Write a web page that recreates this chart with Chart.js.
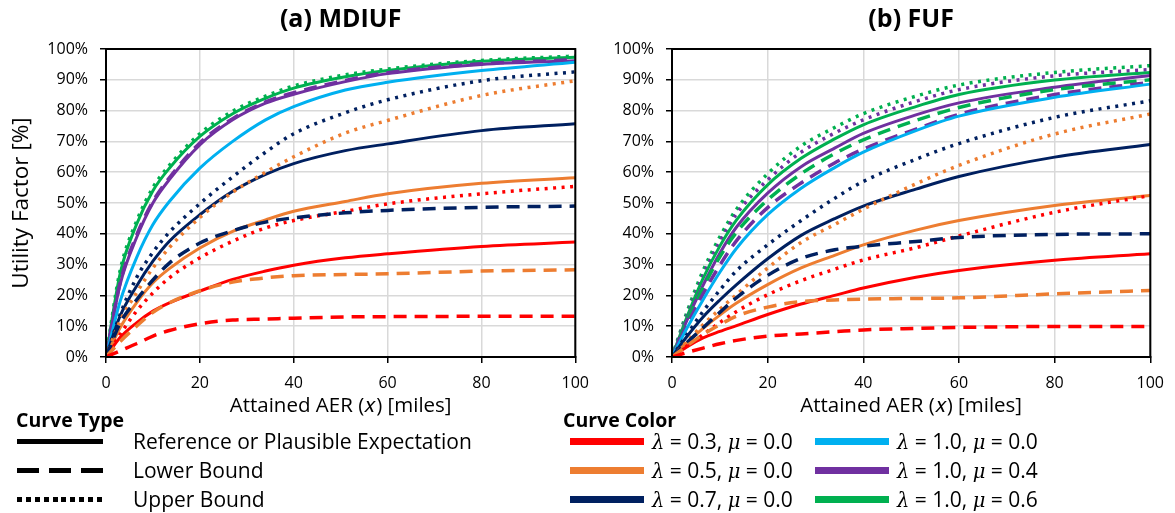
<!DOCTYPE html>
<html>
<head>
<script src="https://cdn.jsdelivr.net/npm/chart.js"></script>
<style>
  body { margin: 0; background: #fff; font-family: "Open Sans", sans-serif; color: #000; }
  #wrap { position: relative; width: 1175px; height: 513px; overflow: hidden; }
  canvas { position: absolute; top: 0; }
  .lg { position: absolute; white-space: nowrap; height: 28px; line-height: 28px; font-size: 21px; }
  .hd { font-weight: bold; font-size: 19.5px; }
  .sw { position: absolute; }
  .m { font-family: "DejaVu Serif", serif; font-style: italic; font-size: 19.5px; }
</style>
</head>
<body>
<div id="wrap">
  <canvas id="chartA" width="600" height="420" style="left:0"></canvas>
  <canvas id="chartB" width="575" height="420" style="left:600px"></canvas>
  <div id="legend"></div>
</div>

<script>
const miles = [0, 3, 6.5, 10, 13.5, 20, 27, 34, 40, 51, 60, 80, 100];

// (a) MDIUF, utility factor in %
const aRedRef    = [0, 6.3, 11.1, 14.9, 17.6, 21.4, 25.2, 27.9, 29.8, 32.2, 33.5, 35.9, 37.3];
const aRedLow    = [0, 2, 4.3, 6.8, 8.6, 10.8, 12, 12.3, 12.6, 13, 13.1, 13.2, 13.2];
const aRedUp     = [0, 7.3, 14.9, 20.8, 25.7, 32.2, 37.6, 41.9, 44.3, 47.3, 49.7, 53, 55.4];
const aOrangeRef = [0, 9.5, 17.6, 24.1, 28.7, 35.4, 40.8, 44.5, 47.3, 50.5, 53, 56.4, 58.2];
const aOrangeLow = [0, 5, 10, 14.5, 17.6, 21.5, 24.3, 25.7, 26.4, 26.8, 27, 27.9, 28.3];
const aOrangeUp  = [0, 11.7, 20.8, 28.9, 35.5, 45.3, 53.5, 60, 65, 72.7, 76.8, 84.9, 89.7];
const aNavyRef   = [0, 13.3, 23, 31.1, 37.6, 46.2, 53.8, 59.3, 62.8, 67, 69.2, 73.5, 75.7];
const aNavyLow   = [0, 11, 18.5, 25, 30.5, 37, 41, 43.8, 45.2, 46.8, 47.6, 48.6, 49];
const aNavyUp    = [0, 13.8, 25.7, 34, 40.5, 49.8, 58.5, 66.5, 72.5, 79.3, 83.5, 89.7, 92.6];
const aBlueRef   = [0, 18, 32.2, 43, 50.5, 61.3, 70, 77, 81.3, 86.7, 89.2, 93, 95.7];
const aPurpleRef = [0, 23.5, 38.7, 50, 57.6, 68.9, 77, 82.4, 85.3, 89.4, 92, 95, 96.2];
const aPurpleLow = [0, 24, 39.5, 50.5, 58.2, 69.5, 77.4, 82.8, 85.8, 89.8, 92.3, 95.2, 96.5];
const aGreenRef  = [0, 27, 43, 54, 61.3, 71.6, 79, 84, 87.3, 91, 93, 96, 97.3];
const aGreenUp   = [0, 28, 44, 55, 62.2, 72.5, 79.8, 84.7, 88, 91.6, 93.5, 96.3, 97.7];

// (b) FUF, utility factor in %
const bRedRef    = [0, 3.2, 6.2, 8.3, 10.2, 13.8, 17.2, 20, 22.4, 25.9, 28.1, 31.4, 33.5];
const bRedLow    = [0, 1.4, 2.9, 4.3, 5.4, 6.8, 7.5, 8.2, 8.8, 9.3, 9.6, 9.9, 9.9];
const bRedUp     = [0, 3.4, 7.3, 11.2, 14.8, 20.2, 24.8, 28.5, 31.5, 35.5, 39.3, 47, 52.4];
const bOrangeRef = [0, 4.5, 9.3, 13.6, 17.5, 23.5, 28.9, 33, 36.4, 41.2, 44.3, 49.2, 52.4];
const bOrangeLow = [0, 3.5, 7.3, 10.5, 13.3, 16.2, 18, 18.5, 18.8, 19, 19.2, 20.5, 21.6];
const bOrangeUp  = [0, 4.8, 10.5, 15.5, 20.3, 28.9, 37.2, 43, 48, 56.2, 62.2, 72.4, 78.9];
const bNavyRef   = [0, 6.4, 13, 18.5, 23.5, 31.9, 39.5, 44.9, 49, 54.5, 58.6, 64.9, 69];
const bNavyLow   = [0, 4.5, 9.5, 14.5, 19.3, 26.5, 32, 34.8, 36, 37.5, 38.8, 39.8, 40];
const bNavyUp    = [0, 7, 14.8, 21.7, 28, 36.4, 44.3, 51.5, 57, 64.2, 69.3, 77.8, 83.2];
const bBlueRef   = [0, 9, 18.6, 27.5, 35.3, 46.2, 54.8, 61.5, 66.5, 73.5, 78.2, 84.3, 88.6];
const bPurpleRef = [0, 11.5, 23.3, 33.7, 42.2, 53.2, 61.8, 67.8, 72.6, 78.6, 82.5, 87.6, 91.4];
const bPurpleLow = [0, 10, 20.5, 29.8, 37.8, 48.5, 56.5, 63, 67.5, 74, 78.8, 85.2, 89.2];
const bPurpleUp  = [0, 13, 26.5, 37.5, 46.5, 57.5, 66.5, 72.7, 77, 83, 86.8, 91.3, 93.3];
const bGreenRef  = [0, 12.5, 25.5, 36, 44.5, 55.9, 64.5, 70.8, 75.4, 81.3, 85.2, 89.9, 92.4];
const bGreenLow  = [0, 11, 22.5, 32.5, 40.5, 51, 59.5, 66, 70.5, 76.8, 81, 86.8, 90];
const bGreenUp   = [0, 14, 28, 39, 48, 59.5, 68.5, 74.5, 79, 84.7, 88.3, 92.4, 94.6];

// legend text
const typeLabels  = ['Reference or Plausible Expectation', 'Lower Bound', 'Upper Bound'];
const lambdas     = ['0.3', '0.5', '0.7', '1.0', '1.0', '1.0'];
const mus         = ['0.0', '0.0', '0.0', '0.0', '0.4', '0.6'];

const RED = '#ff0000', ORANGE = '#ed7d31', NAVY = '#002060', BLUE = '#00b0f0', PURPLE = '#7030a0', GREEN = '#00b050';
const colorList = [RED, ORANGE, NAVY, BLUE, PURPLE, GREEN];
const DASH = { ref: [], low: [13, 8], up: [3, 5.5] };
const FONT = '"Open Sans", sans-serif';

function line(vals, color, kind) {
  return {
    data: miles.map((x, i) => ({ x: x, y: vals[i] })),
    borderColor: color,
    borderWidth: kind === 'ref' ? 3 : 3.5,
    borderDash: DASH[kind],
    borderCapStyle: 'butt',
    pointRadius: 0,
    cubicInterpolationMode: 'monotone',
    fill: false
  };
}

// black box around the plot area
const boxPlugin = {
  id: 'box',
  afterDraw(chart) {
    const a = chart.chartArea, ctx = chart.ctx;
    ctx.save();
    ctx.strokeStyle = '#000';
    ctx.lineWidth = 2;
    ctx.strokeRect(a.left, a.top, a.right - a.left, a.bottom - a.top);
    ctx.restore();
  }
};

function options(title, yTitle, yWidth, rightPad) {
  return {
    responsive: false,
    animation: false,
    layout: { padding: { right: rightPad } },
    plugins: {
      legend: { display: false },
      tooltip: { enabled: false },
      title: {
        display: true, text: title, fullSize: false, color: '#000',
        font: { family: FONT, size: 25, weight: 'bold' },
        padding: { top: 5, bottom: 14 }
      }
    },
    scales: {
      x: {
        type: 'linear', min: 0, max: 100,
        ticks: { stepSize: 20, color: '#000', font: { family: FONT, size: 16 }, padding: 11, maxRotation: 0 },
        grid: { color: '#d9d9d9', lineWidth: 1.5, tickLength: 6, tickColor: '#000' },
        border: { color: '#000', width: 2 },
        title: { display: true, text: 'Attained AER (𝑥) [miles]', color: '#000',
                 font: { family: FONT, size: 20.5 }, padding: { top: 0, bottom: 2 } },
        afterFit(s) { s.height = 63; }
      },
      y: {
        min: 0, max: 100,
        ticks: { stepSize: 10, color: '#000', font: { family: FONT, size: 16 }, padding: 12,
                 callback: v => v + '%' },
        grid: { color: '#d9d9d9', lineWidth: 1.5, tickLength: 6, tickColor: '#000' },
        border: { color: '#000', width: 2 },
        title: { display: yTitle, text: 'Utility Factor [%]', color: '#000',
                 font: { family: FONT, size: 22.5 }, padding: { top: 8, bottom: 0 } },
        afterFit(s) { s.width = yWidth; }
      }
    }
  };
}

new Chart(document.getElementById('chartA'), {
  type: 'line',
  data: {
    datasets: [
      line(aRedLow, RED, 'low'), line(aOrangeLow, ORANGE, 'low'), line(aNavyLow, NAVY, 'low'),
      line(aRedUp, RED, 'up'), line(aOrangeUp, ORANGE, 'up'), line(aNavyUp, NAVY, 'up'),
      line(aRedRef, RED, 'ref'), line(aOrangeRef, ORANGE, 'ref'), line(aNavyRef, NAVY, 'ref'),
      line(aBlueRef, BLUE, 'ref'), line(aPurpleLow, PURPLE, 'low'), line(aPurpleRef, PURPLE, 'ref'),
      line(aGreenRef, GREEN, 'ref'), line(aGreenUp, GREEN, 'up')
    ]
  },
  options: options('(a) MDIUF', true, 106, 13),
  plugins: [boxPlugin]
});

new Chart(document.getElementById('chartB'), {
  type: 'line',
  data: {
    datasets: [
      line(bRedLow, RED, 'low'), line(bOrangeLow, ORANGE, 'low'), line(bNavyLow, NAVY, 'low'),
      line(bRedUp, RED, 'up'), line(bOrangeUp, ORANGE, 'up'), line(bNavyUp, NAVY, 'up'),
      line(bRedRef, RED, 'ref'), line(bOrangeRef, ORANGE, 'ref'), line(bNavyRef, NAVY, 'ref'),
      line(bBlueRef, BLUE, 'ref'), line(bPurpleLow, PURPLE, 'low'), line(bGreenLow, GREEN, 'low'),
      line(bPurpleRef, PURPLE, 'ref'), line(bGreenRef, GREEN, 'ref'),
      line(bPurpleUp, PURPLE, 'up'), line(bGreenUp, GREEN, 'up')
    ]
  },
  options: options('(b) FUF', false, 72, 22),
  plugins: [boxPlugin]
});

// legend below the panels
const legend = document.getElementById('legend');
function add(html, cls, left, cy) {
  const d = document.createElement('div');
  d.className = 'lg ' + cls;
  d.style.left = left + 'px';
  d.style.top = (cy - 14) + 'px';
  d.innerHTML = html;
  legend.appendChild(d);
}
function swatch(left, cy, w, h, bg) {
  const d = document.createElement('div');
  d.className = 'sw';
  d.style.left = left + 'px';
  d.style.top = (cy - h / 2) + 'px';
  d.style.width = w + 'px';
  d.style.height = h + 'px';
  d.style.background = bg;
  legend.appendChild(d);
}
const rowY = [441, 470, 499];

add('Curve Type', 'hd', 16, 420);
const typeBg = [
  '#000',
  'repeating-linear-gradient(to right, #000 0 22px, transparent 22px 32px)',
  'repeating-linear-gradient(to right, #000 0 5px, transparent 5px 8.9px)'
];
typeLabels.forEach((t, i) => {
  swatch(17, rowY[i], 86, 5, typeBg[i]);
  add(t, '', 133, rowY[i]);
});

add('Curve Color', 'hd', 563, 420);
lambdas.forEach((l, i) => {
  const col = Math.floor(i / 3), row = i % 3;
  const sx = col === 0 ? 570 : 815;
  const tx = col === 0 ? 652 : 897;
  swatch(sx, rowY[row], 74, 7, colorList[i]);
  add('<span class="m">λ</span> = ' + l + ', <span class="m">μ</span> = ' + mus[i], '', tx, rowY[row]);
});
</script>
</body>
</html>
